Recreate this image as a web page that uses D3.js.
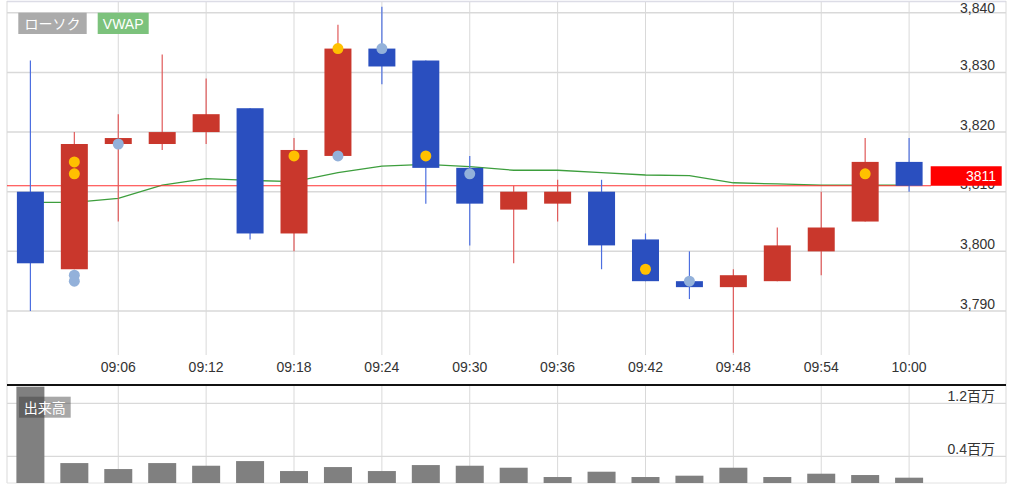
<!DOCTYPE html>
<html><head><meta charset="utf-8">
<script src="https://cdn.jsdelivr.net/npm/d3@7"></script>
<style>
html,body{margin:0;padding:0;background:#fff;}
svg{display:block;font-family:"Liberation Sans",Arial,"Noto Sans CJK JP",sans-serif;}
</style></head><body>
<svg id="c" width="1024" height="496"></svg>
<script>
// ---- data ----
const times = ["09:00","09:03","09:06","09:09","09:12","09:15","09:18","09:21","09:24","09:27","09:30","09:33","09:36","09:39","09:42","09:45","09:48","09:51","09:54","09:57","10:00"];
const opens  = [3810,3797,3818,3818,3820,3824,3803,3816,3834,3832,3814,3807,3808,3810,3802,3795,3794,3795,3800,3805,3815];
const highs  = [3832,3820,3823,3833,3829,3824,3819,3838,3841,3832,3816,3811,3812,3812,3803,3800,3797,3804,3810,3819,3819];
const lows   = [3790,3797,3805,3817,3818,3802,3800,3816,3828,3808,3801,3798,3805,3797,3795,3792,3783,3795,3796,3805,3810];
const closes = [3798,3818,3819,3820,3823,3803,3817,3834,3831,3814,3808,3810,3810,3801,3795,3794,3796,3801,3804,3815,3811];
const vwap   = [3808.2,3808.2,3808.9,3811.1,3812.2,3811.9,3811.7,3813.2,3814.3,3814.6,3814.2,3813.6,3813.6,3813.2,3812.8,3812.7,3811.5,3811.3,3811.1,3811.1,3811.1];
const volumes = [1450000,300000,210000,300000,260000,330000,180000,240000,180000,270000,260000,230000,90000,170000,90000,110000,230000,90000,140000,120000,80000];
const buyMarkerTimes  = ["09:03","09:03","09:18","09:21","09:27","09:42","09:57"];
const buyMarkerValues = [3815,3813,3816,3834,3816,3797,3813];
const sellMarkerTimes  = ["09:03","09:03","09:06","09:21","09:24","09:30","09:45"];
const sellMarkerValues = [3796,3795,3818,3816,3834,3813,3795];
const priceTicks = [3790,3800,3810,3820,3830,3840];
const timeTicks = ["09:06","09:12","09:18","09:24","09:30","09:36","09:42","09:48","09:54","10:00"];
const volumeTicks = [400000,1200000];
const volumeTickLabels = ["0.4百万","1.2百万"];
const lastPrice = 3811;
const legendLabels = ["ローソク","VWAP"];
const volumeLabel = "出来高";

// ---- setup ----
const svg = d3.select("#c");
const parse = d3.timeParse("%H:%M");
const L = 7, R = 1006, mainTop = 2, mainBottom = 355, volTop = 385, volBottom = 483;
const x = d3.scaleTime().domain([parse("09:00"), parse("10:00")]).range([30.4, 909.1]);
const y = d3.scaleLinear().domain([3790, 3840]).range([311, 12.8]);
const yv = d3.scaleLinear().domain([0, 1200000]).range([volBottom, 403.3]);
const bw = 27;
const gridC = "#d9d9d9";
const upBody = "#c9372c", downBody = "#2a4fbf", upWick = "#e05a5a", downWick = "#4d6fe0";

// borders
svg.append("line").attr("x1", L).attr("x2", R).attr("y1", 1.5).attr("y2", 1.5).attr("stroke", "#dcdce6").attr("stroke-width", 1.5);
svg.append("line").attr("x1", L).attr("x2", L).attr("y1", 1).attr("y2", volBottom).attr("stroke", "#d9d9d9");
svg.append("line").attr("x1", R).attr("x2", R).attr("y1", 1).attr("y2", volBottom).attr("stroke", "#d9d9d9");

// horizontal grid main
svg.append("g").selectAll("line").data(priceTicks).join("line")
  .attr("x1", L).attr("x2", R).attr("y1", d => y(d)).attr("y2", d => y(d))
  .attr("stroke", gridC).attr("stroke-width", 1.5);
// vertical grid main + volume
const vg = svg.append("g");
vg.selectAll("line.m").data(timeTicks).join("line").attr("class", "m")
  .attr("x1", d => x(parse(d))).attr("x2", d => x(parse(d)))
  .attr("y1", mainTop).attr("y2", mainBottom).attr("stroke", gridC);
vg.selectAll("line.v").data(timeTicks).join("line").attr("class", "v")
  .attr("x1", d => x(parse(d))).attr("x2", d => x(parse(d)))
  .attr("y1", volTop).attr("y2", volBottom).attr("stroke", gridC);
// volume horizontal grid
svg.append("g").selectAll("line").data(volumeTicks).join("line")
  .attr("x1", L).attr("x2", R).attr("y1", d => yv(d)).attr("y2", d => yv(d))
  .attr("stroke", gridC).attr("stroke-width", 1.2);
svg.append("line").attr("x1", L).attr("x2", R).attr("y1", volBottom).attr("y2", volBottom).attr("stroke", "#e2e2e2");

// x tick labels
svg.append("g").selectAll("text").data(timeTicks).join("text")
  .attr("x", d => x(parse(d))).attr("y", 372).attr("text-anchor", "middle")
  .attr("font-size", 14).attr("fill", "#333").text(d => d);

// y tick labels
const fmt = d3.format(",");
svg.append("g").selectAll("text").data(priceTicks).join("text")
  .attr("x", 995).attr("y", d => Math.max(y(d) - 2.5, 13.3)).attr("text-anchor", "end")
  .attr("font-size", 14).attr("fill", "#333").text(d => fmt(d));

// VWAP
const line = d3.line().x((d, i) => x(parse(times[i]))).y(d => y(d));
svg.append("path").datum(vwap).attr("d", line).attr("fill", "none").attr("stroke", "#3d9e3d").attr("stroke-width", 1.3);

// last price line
svg.append("line").attr("x1", L).attr("x2", 931).attr("y1", y(lastPrice)).attr("y2", y(lastPrice))
  .attr("stroke", "#ff3030").attr("stroke-width", 1.2);

// candles
const cg = svg.append("g");
times.forEach((t, i) => {
  const cx = x(parse(t));
  const up = closes[i] >= opens[i];
  cg.append("line").attr("x1", cx).attr("x2", cx).attr("y1", y(highs[i])).attr("y2", y(lows[i]))
    .attr("stroke", up ? upWick : downWick).attr("stroke-width", 1.2);
  const top = y(Math.max(opens[i], closes[i])), bot = y(Math.min(opens[i], closes[i]));
  cg.append("rect").attr("x", cx - bw / 2).attr("y", top).attr("width", bw).attr("height", Math.max(bot - top, 1))
    .attr("fill", up ? upBody : downBody);
});

// markers
svg.append("g").selectAll("circle").data(sellMarkerTimes).join("circle")
  .attr("cx", d => x(parse(d))).attr("cy", (d, i) => y(sellMarkerValues[i])).attr("r", 5.5).attr("fill", "#93b1da");
svg.append("g").selectAll("circle").data(buyMarkerTimes).join("circle")
  .attr("cx", d => x(parse(d))).attr("cy", (d, i) => y(buyMarkerValues[i])).attr("r", 5.5).attr("fill", "#ffc000");

// last price label
svg.append("rect").attr("x", 930.7).attr("y", y(lastPrice) - 19.5).attr("width", 71).attr("height", 19.5).attr("fill", "#ff0000");
svg.append("text").attr("x", 996).attr("y", y(lastPrice) - 5).attr("text-anchor", "end")
  .attr("font-size", 14).attr("fill", "#fff").text(lastPrice);

// volume bars
svg.append("g").selectAll("rect").data(volumes).join("rect")
  .attr("x", (d, i) => x(parse(times[i])) - 14).attr("width", 28)
  .attr("y", d => yv(d)).attr("height", d => volBottom - yv(d)).attr("fill", "#808080");

// volume labels
svg.append("g").selectAll("text").data(volumeTicks).join("text")
  .attr("x", 995).attr("y", d => yv(d) - 2.5).attr("text-anchor", "end")
  .attr("font-size", 14).attr("fill", "#333").text((d, i) => volumeTickLabels[i]);

// separator
svg.append("line").attr("x1", L).attr("x2", R).attr("y1", volTop).attr("y2", volTop).attr("stroke", "#111").attr("stroke-width", 2);

// legend badges
const leg = [{t: legendLabels[0], x: 18.3, w: 68.4, c: "#ababab"}, {t: legendLabels[1], x: 97.7, w: 51, c: "#7cc27c"}];
leg.forEach(l => {
  svg.append("rect").attr("x", l.x).attr("y", 12.7).attr("width", l.w).attr("height", 21.3).attr("fill", l.c);
  svg.append("text").attr("x", l.x + l.w / 2).attr("y", 28.5).attr("text-anchor", "middle")
    .attr("font-size", 14).attr("fill", "#fff").text(l.t);
});
svg.append("rect").attr("x", 19).attr("y", 396.7).attr("width", 51.7).attr("height", 21).attr("fill", "rgba(60,60,60,0.45)");
svg.append("text").attr("x", 44.8).attr("y", 412.5).attr("text-anchor", "middle")
  .attr("font-size", 14).attr("fill", "#fff").text(volumeLabel);
</script></body></html>
